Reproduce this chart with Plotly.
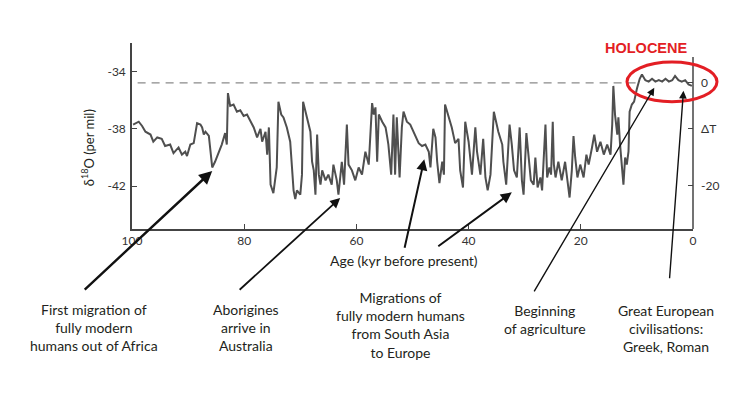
import plotly.graph_objects as go

# GISP2-style delta-18O record (age in kyr BP)
AGE = [99.8, 98.8, 98.2, 97.6, 96.7, 96.2, 95.5, 94.7, 94.1, 93.2, 92.6, 91.7,
       91.1, 90.5, 90.2, 89.6, 89.0, 88.4, 87.8, 87.5, 87.2, 86.9, 86.3, 86.0,
       85.7, 85.2, 84.6, 84.0, 83.4, 83.1, 82.9, 82.5, 81.9, 81.3, 80.7, 80.1,
       79.5, 78.9, 78.3, 77.7, 77.1, 76.8, 76.2, 75.9, 75.6, 75.3, 74.8, 74.5,
       74.2, 73.9, 73.4, 73.0, 72.4, 71.8, 71.5, 71.2, 70.9, 70.6, 70.0, 69.7,
       69.5, 69.1, 68.8, 68.2, 67.9, 67.6, 67.3, 67.0, 66.7, 66.4, 66.1, 65.5,
       65.0, 64.4, 64.1, 63.5, 63.2, 62.9, 62.6, 62.2, 61.7, 61.4, 60.8, 60.2,
       59.6, 59.0, 58.4, 57.8, 57.2, 56.9, 56.6, 56.3, 56.0, 55.4, 54.8, 54.5,
       54.3, 53.8, 53.4, 53.1, 52.8, 52.3, 51.9, 51.6, 51.0, 50.4, 49.8, 48.9,
       48.3, 47.7, 47.1, 46.8, 46.3, 45.9, 45.6, 45.2, 44.7, 44.4, 44.2, 43.6,
       43.0, 42.4, 41.8, 41.5, 41.0, 40.6, 40.0, 39.4, 38.8, 38.5, 37.9, 37.4,
       37.0, 36.6, 36.1, 35.5, 35.1, 34.7, 34.0, 33.8, 33.3, 32.7, 32.3, 31.9,
       31.4, 30.9, 30.5, 30.2, 29.7, 29.3, 28.9, 28.4, 28.1, 27.7, 27.2, 26.9,
       26.3, 26.0, 25.6, 25.3, 25.0, 24.8, 24.5, 24.0, 23.4, 22.8, 22.5, 22.0,
       21.6, 21.3, 21.0, 20.6, 20.1, 19.5, 19.0, 18.6, 18.0, 17.6, 17.1, 16.5,
       15.9, 15.3, 14.7, 14.4, 14.2, 13.9, 13.5, 13.3, 13.0, 12.7, 12.4, 12.1,
       11.8, 11.5, 11.3, 10.9, 10.5, 10.0, 9.5, 9.1, 8.5, 7.9, 7.3, 6.7,
       6.1, 5.5, 4.9, 4.3, 3.7, 3.2, 2.6, 2.0, 1.4, 0.8, 0.2]
D18O = [-37.7, -37.5, -37.8, -38.2, -38.4, -38.9, -38.6, -38.7, -39.2, -39.1, -39.7, -39.3,
        -39.8, -39.6, -39.9, -39.1, -39.0, -37.6, -37.7, -37.9, -38.4, -38.2, -38.5, -39.8,
        -40.7, -40.3, -39.7, -39.1, -38.3, -39.1, -35.5, -36.4, -36.3, -36.8, -36.7, -37.1,
        -37.0, -37.5, -37.9, -38.6, -38.0, -38.9, -38.2, -39.8, -37.9, -41.9, -42.5, -41.6,
        -40.7, -36.1, -37.0, -37.2, -37.9, -38.9, -40.5, -42.3, -42.9, -42.3, -42.6, -41.2,
        -36.1, -36.8, -37.2, -38.2, -40.3, -40.9, -42.6, -38.4, -41.2, -41.9, -40.9, -41.6,
        -41.2, -41.9, -40.5, -41.6, -42.6, -41.4, -40.3, -41.9, -37.7, -40.5, -40.9, -41.6,
        -40.7, -41.2, -39.6, -40.5, -36.2, -37.0, -36.5, -40.3, -37.0, -37.5, -37.9, -38.6,
        -39.1, -41.2, -37.0, -41.2, -37.2, -41.4, -37.9, -36.8, -37.5, -37.7, -38.2, -39.0,
        -39.2, -39.1, -39.6, -40.7, -38.0, -38.6, -40.3, -41.8, -40.3, -41.2, -36.3, -37.1,
        -37.9, -39.0, -38.7, -40.9, -42.1, -37.5, -38.9, -41.2, -37.9, -39.6, -41.2, -38.7,
        -41.4, -42.3, -41.2, -36.8, -37.5, -38.2, -39.1, -40.3, -41.9, -37.7, -39.1, -40.9,
        -41.4, -37.9, -41.6, -42.6, -38.3, -40.0, -41.6, -41.9, -40.0, -42.1, -41.4, -42.3,
        -37.7, -41.4, -40.7, -41.2, -37.5, -40.5, -41.4, -40.3, -41.6, -40.3, -41.2, -42.8,
        -40.9, -38.5, -40.0, -41.4, -40.5, -41.4, -39.8, -40.5, -39.3, -38.4, -39.6, -38.9,
        -39.8, -39.1, -39.8, -37.7, -35.0, -37.0, -38.4, -37.2, -39.1, -40.5, -41.9, -40.0,
        -40.5, -39.6, -36.8, -36.3, -36.1, -35.2, -34.5, -34.2, -34.6, -34.7, -34.5, -34.7,
        -34.6, -34.7, -34.5, -34.7, -34.6, -34.3, -34.6, -34.7, -34.6, -34.9, -35.0]

X_TICKS = [100, 80, 60, 40, 20, 0]
Y_TICKS = [-34, -38, -42]
Y_LABELS = ["-34", "-38", "-42"]
DT_TICKS = [0, -8.9, -20]
DT_LABELS = ["0", "\u0394T", "-20"]
REF_SPAN = [99, 9.5]   # ages covered by the dashed present-day level

# (text, centre x px, centre y px) in the 736x403 picture
EVENTS = [
    ("First migration of<br>fully modern<br>humans out of Africa", 94, 328),
    ("Aborigines<br>arrive in<br>Australia", 246, 328),
    ("Migrations of<br>fully modern humans<br>from South Asia<br>to Europe", 400, 326),
    ("Beginning<br>of agriculture", 545, 320),
    ("Great European<br>civilisations:<br>Greek, Roman", 666, 329),
]
# arrow head (age, d18O), tail offset in px, line width
ARROWS = [
    (85.7, -40.94, -129, 120, 2.4),
    (62.9, -42.84, -102, 93, 1.8),
    (47.9, -40.13, -20, 90, 2.0),
    (32.3, -42.44, -75, 55, 2.0),
    (52.8, -48.47, 15, -8, 1.6),
    (6.9, -35.13, -121, 205, 1.4),
    (1.7, -35.34, -14, 189, 1.4),
]

# page body adds an 8px offset, so the figure is 8px smaller each way
OFF = 8
W, H = 736 - OFF, 403 - OFF
PX0, PX1, PY0, PY1 = 131.7, 692.7, 42.7, 229.3     # plot box in picture px
FONT = "Lato, 'Open Sans', sans-serif"
INK = "#231f20"


def px(x):
    return (x - PX0) / (PX1 - PX0)


def py(y):
    return (PY1 - y) / (PY1 - PY0)


def label(text, x, y, size=14, color=INK, **kw):
    fig.add_annotation(x=px(x), y=py(y), xref="paper", yref="paper",
                       text=text, showarrow=False, align="center",
                       xanchor="center", yanchor="middle",
                       font=dict(family=kw.pop("family", FONT), size=size,
                                 color=color), **kw)


fig = go.Figure()
fig.add_trace(go.Scatter(
    x=REF_SPAN, y=[0, 0], yaxis="y2", mode="lines",
    line=dict(color="#8a8a8a", width=1.3, dash="8px,6px"),
    hoverinfo="skip",
))
fig.add_trace(go.Scatter(
    x=AGE, y=D18O, mode="lines",
    line=dict(color="#4f4f4f", width=2),
))

axis_common = dict(
    showgrid=False, zeroline=False, ticks="inside", ticklen=5,
    tickcolor="#444", tickwidth=1.2,
    tickfont=dict(family=FONT, size=12, color="#333"),
)
fig.update_layout(
    width=W, height=H,
    margin=dict(l=PX0 - OFF, r=W - (PX1 - OFF), t=PY0 - OFF, b=H - (PY1 - OFF)),
    paper_bgcolor="white", plot_bgcolor="white",
    showlegend=False,
    xaxis=dict(range=[100, 0], tickvals=X_TICKS, showline=True,
               linecolor="#444", linewidth=1.5, **axis_common),
    yaxis=dict(range=[-45, -32], tickvals=Y_TICKS, ticktext=Y_LABELS,
               showline=True, linecolor="#444", linewidth=1.5,
               ticklabelstandoff=2, **axis_common),
    yaxis2=dict(range=[-28.5, 7.8], overlaying="y", side="right",
                tickvals=DT_TICKS, ticktext=DT_LABELS, showline=False,
                ticklabelstandoff=7, **axis_common),
)

# right-hand axis line is shorter than the left one
fig.add_shape(type="line", xref="paper", yref="paper",
              x0=1, x1=1, y0=0, y1=py(56.7),
              line=dict(color="#444", width=1.5))

# Holocene highlight
fig.add_shape(type="circle", xref="paper", yref="paper",
              x0=px(626.7), x1=px(716.7), y0=py(101.7), y1=py(61.7),
              line=dict(color="#e31e24", width=3))
label("<b>HOLOCENE</b>", 646, 47.5, size=14.5, color="#e31e24",
      family="Liberation Sans, Arial")

# axis titles
label("Age (kyr before present)", 404, 261)
label("\u03b4<sup>18</sup>O (per mil)", 88, 148, size=13, textangle=-90)

for age, val, ax, ay, w in ARROWS:
    fig.add_annotation(x=age, y=val, xref="x", yref="y", text="",
                       showarrow=True, arrowhead=2, arrowsize=1.1,
                       arrowwidth=w, arrowcolor="#111", ax=ax, ay=ay)

for text, cx, cy in EVENTS:
    label(text, cx, cy)

fig.write_html("out.html")
